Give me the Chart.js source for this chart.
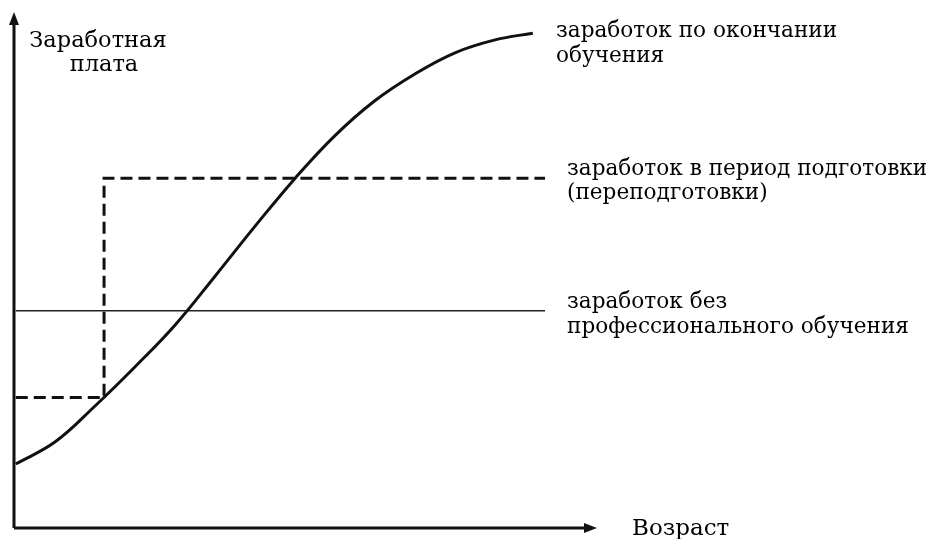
<!DOCTYPE html>
<html>
<head>
<meta charset="utf-8">
<script src="https://cdn.jsdelivr.net/npm/chart.js@4.4.0/dist/chart.umd.min.js"></script>
<style>
  html, body { margin: 0; padding: 0; background: #fff; }
  #wrap { width: 930px; height: 539px; }
</style>
</head>
<body>
<div id="wrap"><canvas id="chart" width="930" height="539"></canvas></div>
<script>
// age axis 0..100, wage axis 0..100 (schematic, no ticks)
const curveAge  = [0.3, 7.1, 13.9, 20.8, 27.7, 34.6, 41.5, 48.4, 55.2, 62.1, 69.0, 75.9, 82.8, 89.3];
const curveWage = [12.4, 16.7, 23.6, 31.2, 39.3, 48.8, 58.5, 67.8, 76.0, 82.8, 88.0, 92.1, 94.6, 95.9];

const trainingAge  = [0.3, 15.5, 15.5, 91.4];
const trainingWage = [25.3, 25.3, 67.8, 67.8];

const noTrainingAge  = [0.3, 91.4];
const noTrainingWage = [42.1, 42.1];

const yTitle = ["Заработная", "плата"];
const xTitle = "Возраст";
const curveLabel = ["заработок по окончании", "обучения"];
const trainingLabel = ["заработок в период подготовки", "(переподготовки)"];
const noTrainingLabel = ["заработок без", "профессионального обучения"];

const toPts = (xs, ys) => xs.map((x, i) => ({ x: x, y: ys[i] }));

const FONT = '"DejaVu Serif", "Liberation Serif", serif';

const axesAndText = {
    id: 'axesAndText',
    afterDraw(chart) {
        const ctx = chart.ctx;
        const a = chart.chartArea;
        const left = a.left, bottom = a.bottom;
        ctx.save();
        ctx.strokeStyle = '#111';
        ctx.fillStyle = '#111';
        ctx.lineWidth = 3;
        ctx.beginPath();
        ctx.moveTo(left, bottom);
        ctx.lineTo(left, a.top + 10);
        ctx.moveTo(left, bottom);
        ctx.lineTo(a.right - 8, bottom);
        ctx.stroke();
        // arrowheads
        ctx.beginPath();
        ctx.moveTo(left, a.top);
        ctx.lineTo(left - 5, a.top + 13);
        ctx.lineTo(left + 5, a.top + 13);
        ctx.closePath();
        ctx.fill();
        ctx.beginPath();
        ctx.moveTo(a.right + 2, bottom);
        ctx.lineTo(a.right - 11, bottom - 5);
        ctx.lineTo(a.right - 11, bottom + 5);
        ctx.closePath();
        ctx.fill();

        ctx.fillStyle = '#000';
        ctx.textBaseline = 'alphabetic';
        ctx.font = '22.5px ' + FONT;
        ctx.textAlign = 'center';
        ctx.fillText(yTitle[0], 98, 47);
        ctx.fillText(yTitle[1], 104, 71);
        ctx.textAlign = 'left';
        ctx.font = '21.6px ' + FONT;
        ctx.fillText(curveLabel[0], 556, 37);
        ctx.fillText(curveLabel[1], 556, 62);
        ctx.fillText(trainingLabel[0], 567, 175);
        ctx.fillText(trainingLabel[1], 567, 199);
        ctx.fillText(noTrainingLabel[0], 567, 308);
        ctx.fillText(noTrainingLabel[1], 567, 333);
        ctx.font = '23px ' + FONT;
        ctx.fillText(xTitle, 632, 535);
        ctx.restore();
    }
};

new Chart(document.getElementById('chart'), {
    type: 'line',
    data: {
        datasets: [
            {
                data: toPts(curveAge, curveWage),
                borderColor: '#111', borderWidth: 3, pointRadius: 0,
                tension: 0.4, fill: false
            },
            {
                data: toPts(trainingAge, trainingWage),
                borderColor: '#111', borderWidth: 3, pointRadius: 0,
                borderDash: [12, 6], tension: 0, fill: false
            },
            {
                data: toPts(noTrainingAge, noTrainingWage),
                borderColor: '#222', borderWidth: 1.5, pointRadius: 0,
                tension: 0, fill: false
            }
        ]
    },
    options: {
        responsive: false,
        animation: false,
        devicePixelRatio: 1,
        layout: { padding: { left: 14, right: 335, top: 12, bottom: 11 } },
        plugins: { legend: { display: false }, tooltip: { enabled: false } },
        scales: {
            x: { type: 'linear', min: 0, max: 100, display: false },
            y: { type: 'linear', min: 0, max: 100, display: false }
        }
    },
    plugins: [axesAndText]
});
</script>
</body>
</html>
